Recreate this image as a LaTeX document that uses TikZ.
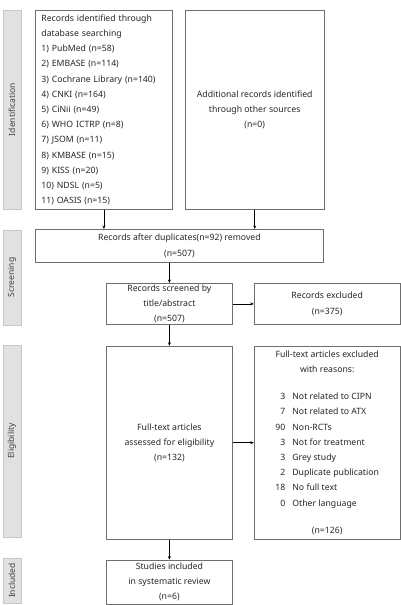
\documentclass[tikz,border=0pt]{standalone}
\usepackage{fontspec}
\setmainfont{Noto Sans}
\usepackage{tikz}
\usetikzlibrary{arrows.meta, positioning}

\begin{document}
\begin{tikzpicture}[
    x=1pt, y=-1pt,
    box/.style={
        rectangle,
        draw=boxgray,
        line width=0.8pt,
        align=center,
        inner sep=0pt,
        text=black!85,
        font=\fontsize{8.7}{15.2}\selectfont
    },
    phase/.style={
        rectangle,
        rotate=90,
        fill=barfill,
        draw=bargray,
        line width=0.6pt,
        minimum height=18pt,
        inner sep=0pt,
        text=black!75,
        font=\fontsize{8.5}{10}\selectfont
    },
    arrow/.style={-{Stealth[length=3.5pt,width=3pt]}, line width=0.6pt}
]

% Colors
\definecolor{boxgray}{RGB}{110,110,110}
\definecolor{bargray}{RGB}{200,200,200}
\definecolor{barfill}{RGB}{225,225,225}

\useasboundingbox (0,0) rectangle (401,605);

% Phases
\node[phase, minimum width=199pt] (ident) at (12,109.5) {Identification};
\node[phase, minimum width=95pt] (screen) at (12,277.5) {Screening};
\node[phase, minimum width=192pt] (elig) at (12,441) {Eligibility};
\node[phase, minimum width=45pt] (incl) at (12,580.5) {Included};

% Row 1
\node[box, anchor=north west, align=left, text width=125pt, inner xsep=6pt,
      minimum height=199pt] (db) at (35,10) {
Records identified through\\
database searching\\
1) PubMed (n=58)\\
2) EMBASE (n=114)\\
3) Cochrane Library (n=140)\\
4) CNKI (n=164)\\
5) CiNii (n=49)\\
6) WHO ICTRP (n=8)\\
7) JSOM (n=11)\\
8) KMBASE (n=15)\\
9) KISS (n=20)\\
10) NDSL (n=5)\\
11) OASIS (n=15)
};

\node[box, right=12pt of db, minimum width=139pt, minimum height=199pt] (other) {
Additional records identified\\
through other sources\\
(n=0)
};

% Row 2
\node[box, anchor=north west, minimum width=288pt, minimum height=33pt] (dup) at (35,229) {
Records after duplicates(n=92) removed\\
(n=507)
};

% Row 3
\node[box, anchor=north west, minimum width=126pt, minimum height=41pt] (screened) at (106,283) {
Records screened by\\
title/abstract\\
(n=507)
};

\node[box, right=21pt of screened, minimum width=146pt, minimum height=41pt] (excl) {
Records excluded\\
(n=375)
};

% Row 4
\node[box, below=21pt of screened, minimum width=126pt, minimum height=193pt] (full) {
Full-text articles\\
assessed for eligibility\\
(n=132)
};

\node[box, right=21pt of full, minimum width=146pt, minimum height=193pt] (fullexcl) {
Full-text articles excluded\\
with reasons:\\[15.2pt]
\begin{tabular}{@{}r@{\hspace{7pt}}l@{}}
3 & Not related to CIPN\\
7 & Not related to ATX\\
90 & Non-RCTs\\
3 & Not for treatment\\
3 & Grey study\\
2 & Duplicate publication\\
18 & No full text\\
0 & Other language
\end{tabular}\\[15.2pt]
(n=126)
};

% Row 5
\node[box, below=20pt of full, minimum width=126pt, minimum height=44pt] (incl box) {
Studies included\\
in systematic review\\
(n=6)
};

% Arrows
\draw[arrow] (db) -- (db.south |- dup.north);

\draw[arrow] (other) -- (other.south |- dup.north);

\draw[arrow] (screened.north |- dup.south) -- (screened);

\draw[arrow] (screened) -- (excl);

\draw[arrow] (screened) -- (full);

\draw[arrow] (full) -- (fullexcl);

\draw[arrow] (full) -- (incl box);

\end{tikzpicture}
\end{document}
